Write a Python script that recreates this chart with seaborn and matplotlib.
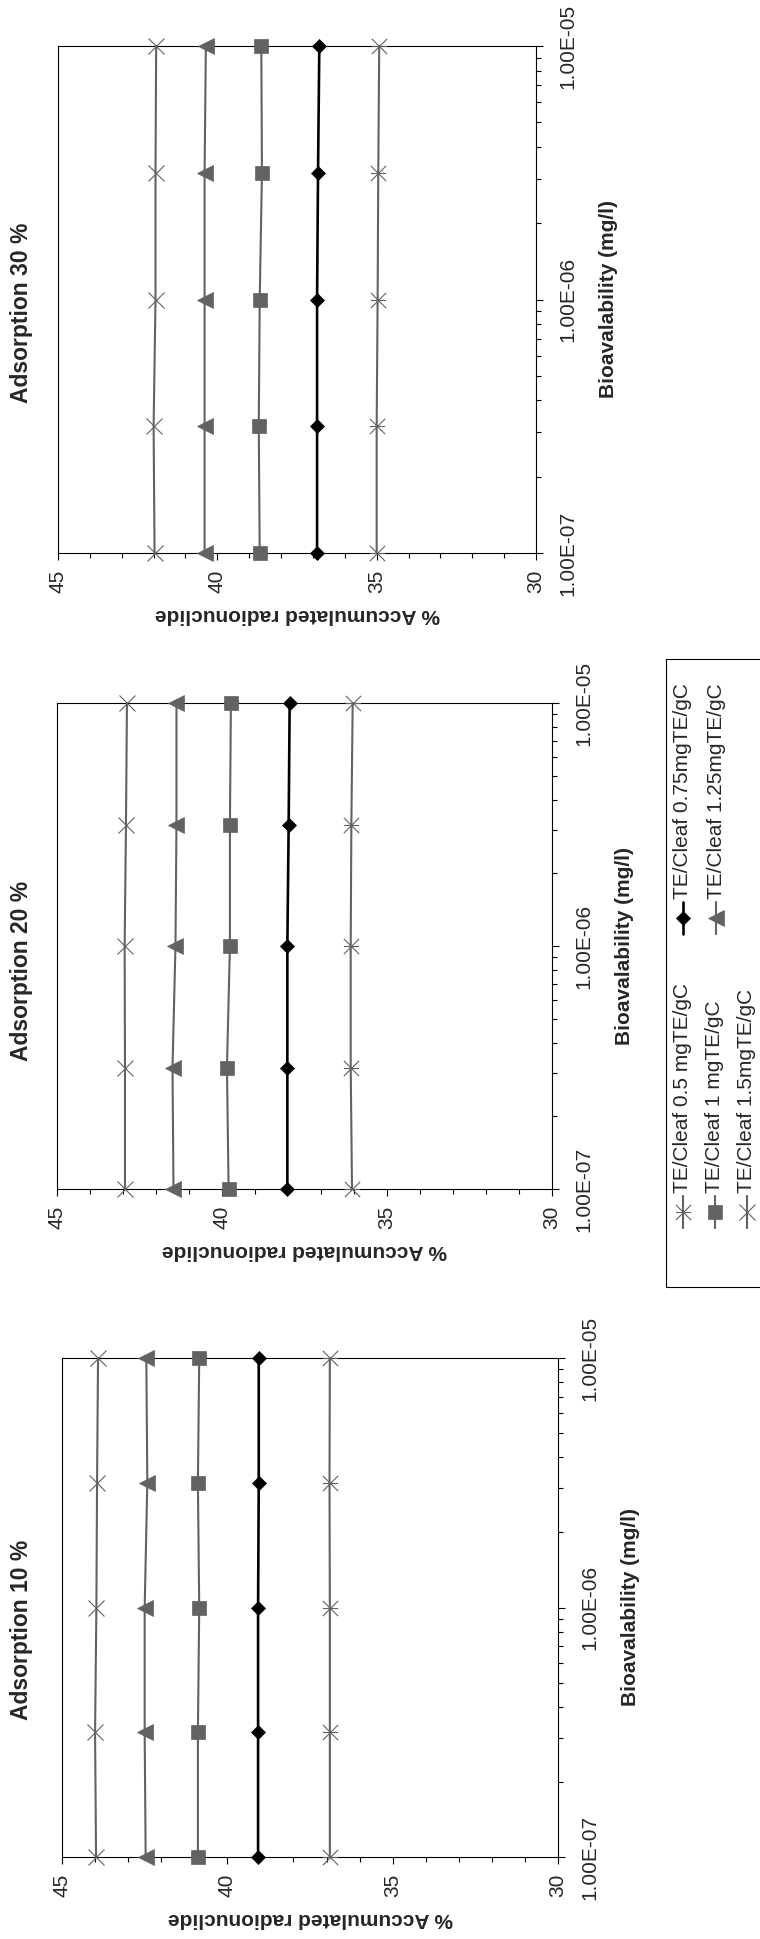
import matplotlib
matplotlib.use('Agg')
import matplotlib.pyplot as plt
import seaborn as sns
from matplotlib.path import Path
from matplotlib.patches import Rectangle
from matplotlib.ticker import FixedLocator, FuncFormatter

sns.set_style('white')
plt.rcParams['font.family'] = ['Liberation Sans', 'DejaVu Sans']

# x values (bioavailability, mg/l)
bioavailability = [1e-7, 3.16e-7, 1e-6, 3.16e-6, 1e-5]

series_labels = ['TE/Cleaf 0.5 mgTE/gC', 'TE/Cleaf 0.75mgTE/gC',
                 'TE/Cleaf 1 mgTE/gC', 'TE/Cleaf 1.25mgTE/gC',
                 'TE/Cleaf 1.5mgTE/gC']
panel_titles = ['Adsorption 10 %', 'Adsorption 20 %', 'Adsorption 30 %']

# % accumulated radionuclide, adsorption 10 %
ads10_te05 = [36.9, 36.9, 36.9, 36.91, 36.9]
ads10_te075 = [39.07, 39.07, 39.07, 39.05, 39.05]
ads10_te1 = [40.89, 40.89, 40.85, 40.89, 40.85]
ads10_te125 = [42.47, 42.5, 42.5, 42.42, 42.45]
ads10_te15 = [43.97, 44.0, 43.96, 43.94, 43.91]

# adsorption 20 %
ads20_te05 = [36.06, 36.1, 36.1, 36.08, 36.04]
ads20_te075 = [38.02, 38.02, 38.02, 37.98, 37.95]
ads20_te1 = [39.8, 39.85, 39.76, 39.76, 39.73]
ads20_te125 = [41.47, 41.5, 41.41, 41.38, 41.38]
ads20_te15 = [42.94, 42.94, 42.95, 42.91, 42.88]

# adsorption 30 %
ads30_te05 = [35.0, 35.0, 34.97, 34.95, 34.92]
ads30_te075 = [36.87, 36.87, 36.87, 36.84, 36.8]
ads30_te1 = [38.67, 38.7, 38.67, 38.6, 38.62]
ads30_te125 = [40.4, 40.4, 40.4, 40.4, 40.36]
ads30_te15 = [41.97, 42.0, 41.94, 41.94, 41.92]

panel_data = [
    [ads10_te05, ads10_te075, ads10_te1, ads10_te125, ads10_te15],
    [ads20_te05, ads20_te075, ads20_te1, ads20_te125, ads20_te15],
    [ads30_te05, ads30_te075, ads30_te1, ads30_te125, ads30_te15],
]

# asterisk marker (X plus bar)
star = Path([(-1, -1), (1, 1), (-1, 1), (1, -1), (-1, 0), (1, 0)],
            [Path.MOVETO, Path.LINETO, Path.MOVETO, Path.LINETO, Path.MOVETO, Path.LINETO])

GREY = '#626262'
styles = [
    dict(color=GREY, marker=star, markersize=11, markeredgewidth=0.8,
         markeredgecolor=GREY, linewidth=1.5),
    dict(color='black', marker='D', markersize=7.5, markeredgewidth=0.5,
         markeredgecolor='black', linewidth=1.9),
    dict(color=GREY, marker='s', markersize=10, markeredgewidth=0.5,
         markeredgecolor=GREY, linewidth=1.5),
    dict(color=GREY, marker='<', markersize=11.5, markeredgewidth=0.5,
         markeredgecolor=GREY, linewidth=1.5),
    dict(color=GREY, marker='x', markersize=11, markeredgewidth=0.8,
         markeredgecolor=GREY, linewidth=1.5),
]

W, H = 760, 1939
fig = plt.figure(figsize=(W / 100, H / 100), dpi=100)

# axes boxes in pixels: left, top, right, bottom (bottom panel first)
boxes = [(62, 1358, 558, 1857), (57, 703, 552, 1189), (58, 46, 536, 553)]
title_y = [1630, 971, 313]

for i, (l, t, r, b) in enumerate(boxes):
    ax = fig.add_axes([l / W, 1 - b / H, (r - l) / W, (b - t) / H])
    for vals, st in zip(panel_data[i], styles):
        sns.lineplot(x=vals, y=bioavailability, orient='y', estimator=None,
                     ax=ax, clip_on=False, zorder=3, **st)
    ax.set_yscale('log')
    ax.set_ylim(1e-7, 1e-5)
    ax.set_xlim(45, 30)

    ax.xaxis.set_major_locator(FixedLocator([45, 40, 35, 30]))
    ax.xaxis.set_minor_locator(FixedLocator(range(30, 46)))
    ax.yaxis.set_major_locator(FixedLocator([1e-7, 1e-6, 1e-5]))
    ax.yaxis.set_minor_locator(FixedLocator([m * 10.0 ** e for e in (-7, -6)
                                             for m in range(2, 10)]))
    ax.yaxis.set_major_formatter(FuncFormatter(lambda v, p: f'{v:.2E}'))
    ax.yaxis.set_minor_formatter(FuncFormatter(lambda v, p: ''))
    ax.yaxis.tick_right()

    ax.tick_params(axis='x', which='both', bottom=True, top=False, direction='out',
                   width=0.8, color='black', labelsize=15, pad=7, labelrotation=90)
    ax.tick_params(axis='y', which='both', left=False, right=True, direction='out',
                   width=0.8, color='black', labelsize=15, pad=11)
    ax.tick_params(which='major', length=5)
    ax.tick_params(which='minor', length=3.5)
    for lab in ax.get_yticklabels():
        lab.set_rotation(90)
        lab.set_va('center')

    for sp in ax.spines.values():
        sp.set_visible(True)
        sp.set_color('black')
        sp.set_linewidth(0.8)
        sp.set_zorder(2)

    ax.annotate('% Accumulated radionuclide', xy=(0.5, 0), xycoords='axes fraction',
                xytext=(0, -44), textcoords='offset points', rotation=180,
                ha='center', va='center', fontsize=15, fontweight='bold')
    ax.annotate('Bioavalability (mg/l)', xy=(1, 0.5), xycoords='axes fraction',
                xytext=(52, 0), textcoords='offset points', rotation=90,
                ha='center', va='center', fontsize=15, fontweight='bold')
    ax.set_xlabel('')
    ax.set_ylabel('')

    fig.text(22 / W, 1 - title_y[i] / H, panel_titles[i], rotation=90,
             ha='center', va='center', fontsize=16.5, fontweight='bold')

# legend drawn rotated, in pixel coordinates
lg = fig.add_axes([0, 0, 1, 1], zorder=5)
lg.set_xlim(0, W)
lg.set_ylim(H, 0)
lg.set_axis_off()
lg.patch.set_alpha(0)
lg.add_patch(Rectangle((666, 659), 120, 628, fill=False, edgecolor='black',
                       linewidth=0.8, clip_on=False))
legend_pos = [(683, 1212), (683, 918), (715, 1212), (716, 918), (747, 1212)]
for (x, y), st, name in zip(legend_pos, styles, series_labels):
    lg.plot([x, x], [y - 16, y + 16], color=st['color'], linewidth=st['linewidth'])
    mk = {k: v for k, v in st.items() if k.startswith('marker')}
    lg.plot([x], [y], linestyle='none', color=st['color'], **mk)
    lg.text(x, y - 19, name, rotation=90, ha='center', va='bottom', fontsize=15)

fig.savefig('out.png', dpi=100, facecolor='white')
